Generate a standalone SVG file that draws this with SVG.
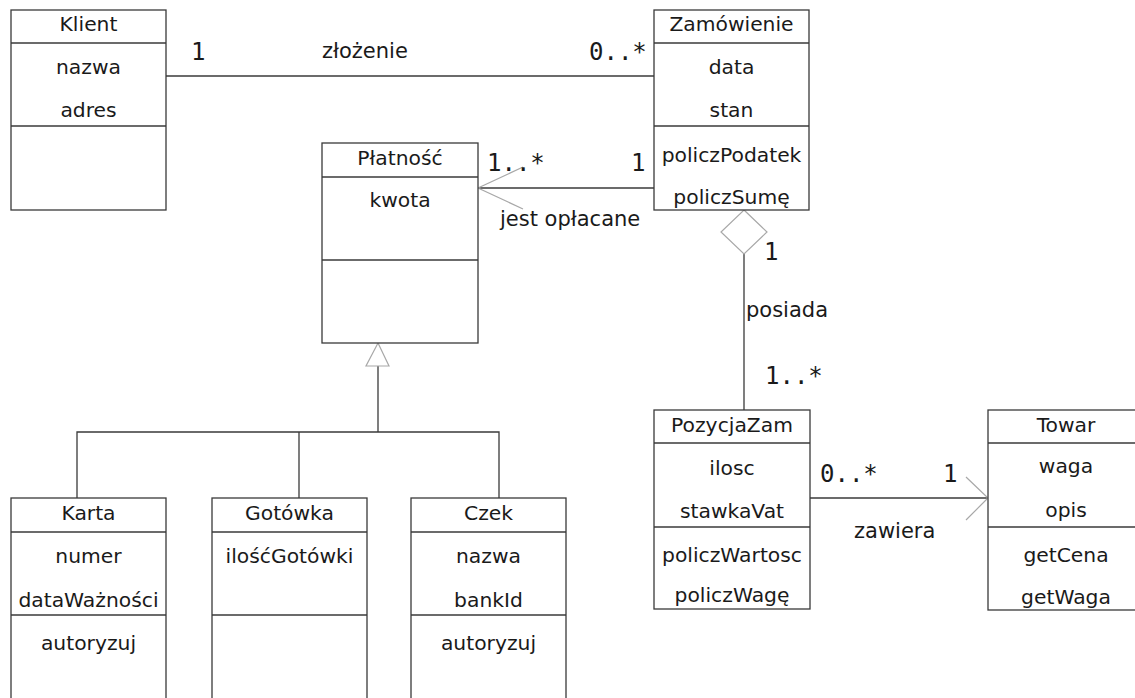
<svg xmlns="http://www.w3.org/2000/svg" width="1135" height="698" viewBox="0 0 1135 698">
<style>
.box{fill:#fff;stroke:#3a3a3a;stroke-width:1.3}
.div{stroke:#3a3a3a;stroke-width:1.3}
.t{font-family:"DejaVu Sans",Verdana,sans-serif;font-size:20.3px;fill:#1a1a1a;text-anchor:middle}
.lbl{font-family:"DejaVu Sans",Verdana,sans-serif;font-size:21px;fill:#1a1a1a}
.m{font-family:"DejaVu Sans Mono","Liberation Mono",monospace;font-size:24px;fill:#1a1a1a}
.con{stroke:#3a3a3a;stroke-width:1.3;fill:none}
.head{stroke:#a8a8a8;stroke-width:1.2;fill:none}
.headw{stroke:#a8a8a8;stroke-width:1.2;fill:#fff}
</style>
<rect width="1135" height="698" fill="#fff"/>

<g id="connectors">
  <line class="con" x1="166" y1="76" x2="654" y2="76"/>
  <line class="con" x1="478" y1="188" x2="654" y2="188"/>
  <polyline class="head" points="523,167 478,188 523,209"/>
  <line class="con" x1="744" y1="254" x2="744" y2="410"/>
  <polygon class="headw" points="744,210 767,232 744,254 721,232"/>
  <line class="con" x1="810" y1="498" x2="988" y2="498"/>
  <polyline class="head" points="966,477 988,498 966,520"/>
  <line class="con" x1="378" y1="366" x2="378" y2="432"/>
  <polyline class="con" points="77,498 77,432 499,432 499,498"/>
  <line class="con" x1="299" y1="432" x2="299" y2="498"/>
  <polygon class="headw" points="378,343 389,366 366,366"/>
</g>

<g id="labels">
  <text class="m" x="191" y="60">1</text>
  <text class="lbl" x="322" y="58">złożenie</text>
  <text class="m" x="589" y="60">0..*</text>
  <text class="m" x="487" y="171">1..*</text>
  <text class="m" x="631" y="171">1</text>
  <text class="lbl" x="500" y="226">jest opłacane</text>
  <text class="m" x="764" y="260">1</text>
  <text class="lbl" x="746" y="317">posiada</text>
  <text class="m" x="765" y="384">1..*</text>
  <text class="m" x="820" y="482">0..*</text>
  <text class="m" x="943" y="482">1</text>
  <text class="lbl" x="854" y="538">zawiera</text>
</g>

<g id="Klient">
  <rect class="box" x="11" y="10" width="155" height="200"/>
  <line class="div" x1="11" y1="43" x2="166" y2="43"/>
  <line class="div" x1="11" y1="126" x2="166" y2="126"/>
  <text class="t" x="88.5" y="31">Klient</text>
  <text class="t" x="88.5" y="74">nazwa</text>
  <text class="t" x="88.5" y="117">adres</text>
</g>

<g id="Zamowienie">
  <rect class="box" x="654" y="10" width="155" height="200"/>
  <line class="div" x1="654" y1="43" x2="809" y2="43"/>
  <line class="div" x1="654" y1="126" x2="809" y2="126"/>
  <text class="t" x="731.5" y="31">Zamówienie</text>
  <text class="t" x="731.5" y="74">data</text>
  <text class="t" x="731.5" y="117">stan</text>
  <text class="t" x="731.5" y="162">policzPodatek</text>
  <text class="t" x="731.5" y="204">policzSumę</text>
</g>

<g id="Platnosc">
  <rect class="box" x="322" y="143" width="156" height="200"/>
  <line class="div" x1="322" y1="177" x2="478" y2="177"/>
  <line class="div" x1="322" y1="260" x2="478" y2="260"/>
  <text class="t" x="400" y="165">Płatność</text>
  <text class="t" x="400" y="207">kwota</text>
</g>

<g id="PozycjaZam">
  <rect class="box" x="654" y="410" width="156" height="199"/>
  <line class="div" x1="654" y1="443" x2="810" y2="443"/>
  <line class="div" x1="654" y1="527" x2="810" y2="527"/>
  <text class="t" x="732" y="432">PozycjaZam</text>
  <text class="t" x="732" y="475">ilosc</text>
  <text class="t" x="732" y="518">stawkaVat</text>
  <text class="t" x="732" y="562">policzWartosc</text>
  <text class="t" x="732" y="602">policzWagę</text>
</g>

<g id="Towar">
  <rect class="box" x="988" y="410" width="155" height="200"/>
  <line class="div" x1="988" y1="443" x2="1143" y2="443"/>
  <line class="div" x1="988" y1="527" x2="1143" y2="527"/>
  <text class="t" x="1066" y="432">Towar</text>
  <text class="t" x="1066" y="473">waga</text>
  <text class="t" x="1066" y="517">opis</text>
  <text class="t" x="1066" y="562">getCena</text>
  <text class="t" x="1066" y="604">getWaga</text>
</g>

<g id="Karta">
  <rect class="box" x="11" y="498" width="155" height="210"/>
  <line class="div" x1="11" y1="532" x2="166" y2="532"/>
  <line class="div" x1="11" y1="615" x2="166" y2="615"/>
  <text class="t" x="88.5" y="520">Karta</text>
  <text class="t" x="88.5" y="563">numer</text>
  <text class="t" x="88.5" y="607">dataWażności</text>
  <text class="t" x="88.5" y="650">autoryzuj</text>
</g>

<g id="Gotowka">
  <rect class="box" x="212" y="498" width="155" height="210"/>
  <line class="div" x1="212" y1="532" x2="367" y2="532"/>
  <line class="div" x1="212" y1="615" x2="367" y2="615"/>
  <text class="t" x="289.5" y="520">Gotówka</text>
  <text class="t" x="289.5" y="563">ilośćGotówki</text>
</g>

<g id="Czek">
  <rect class="box" x="411" y="498" width="155" height="210"/>
  <line class="div" x1="411" y1="532" x2="566" y2="532"/>
  <line class="div" x1="411" y1="615" x2="566" y2="615"/>
  <text class="t" x="488.5" y="520">Czek</text>
  <text class="t" x="488.5" y="563">nazwa</text>
  <text class="t" x="488.5" y="607">bankId</text>
  <text class="t" x="488.5" y="650">autoryzuj</text>
</g>
</svg>
